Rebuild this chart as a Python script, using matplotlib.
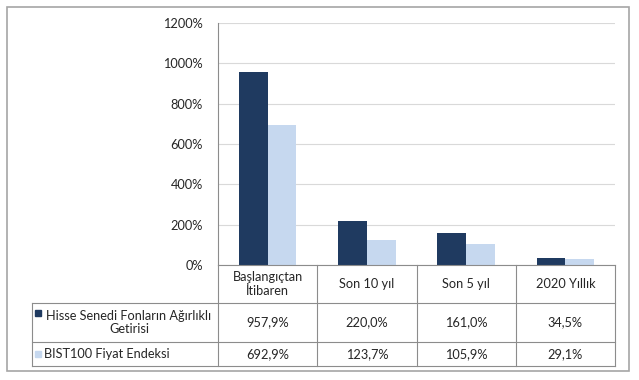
import numpy as np
import matplotlib.pyplot as plt
from matplotlib.patches import Rectangle
from matplotlib.lines import Line2D

plt.rcParams['font.family'] = ['Lato', 'DejaVu Sans']

# ---------- data ----------
categories = ["Başlangıçtan\nİtibaren", "Son 10 yıl", "Son 5 yıl", "2020 Yıllık"]
series_names = ["Hisse Senedi Fonların Ağırlıklı\nGetirisi", "BIST100 Fiyat Endeksi"]
fund_returns = [957.9, 220.0, 161.0, 34.5]
bist_returns = [692.9, 123.7, 105.9, 29.1]
fund_labels = ["957,9%", "220,0%", "161,0%", "34,5%"]
bist_labels = ["692,9%", "123,7%", "105,9%", "29,1%"]
yticks = [0, 200, 400, 600, 800, 1000, 1200]

dark = "#1F3A60"
light = "#C6D8EF"
grid_c = "#D9D9D9"
line_c = "#8C8C8C"
txt_c = "#262626"
fs = 9.2

W, H = 639, 380
fig = plt.figure(figsize=(W / 100, H / 100), dpi=100)

# pixel helpers (top-left origin)
def fx(px):
    return px / W

def fy(py):
    return 1 - py / H

ax_l, ax_r, ax_t, ax_b = 218, 615, 23, 265
ax = fig.add_axes([fx(ax_l), fy(ax_b), fx(ax_r) - fx(ax_l), fy(ax_t) - fy(ax_b)])

x = np.arange(len(categories))
bw = 0.29
ax.bar(x - bw / 2, fund_returns, bw, color=dark, zorder=3)
ax.bar(x + bw / 2, bist_returns, bw, color=light, zorder=3)

ax.set_xlim(-0.5, len(categories) - 0.5)
ax.set_ylim(0, 1200)
ax.set_yticks(yticks)
ax.set_yticklabels([f"{v}%" for v in yticks], fontsize=fs, color=txt_c)
ax.tick_params(axis="y", length=0, pad=11)
ax.set_xticks([])
ax.grid(axis="y", color=grid_c, linewidth=0.8, zorder=0)
for s in ["top", "right", "bottom"]:
    ax.spines[s].set_visible(False)
ax.spines["left"].set_color(line_c)
ax.spines["left"].set_linewidth(0.8)

# ---------- data table ----------
tab_l = 32
row_y = [265, 303, 342, 366]
col_x = [ax_l + (ax_r - ax_l) * i / len(categories) for i in range(len(categories) + 1)]

def hline(x0, x1, y):
    fig.add_artist(Line2D([fx(x0), fx(x1)], [fy(y), fy(y)], color=line_c, lw=0.8))

def vline(xp, y0, y1):
    fig.add_artist(Line2D([fx(xp), fx(xp)], [fy(y0), fy(y1)], color=line_c, lw=0.8))

hline(ax_l, ax_r, row_y[0])
for y in row_y[1:]:
    hline(tab_l, ax_r, y)
for xp in col_x:
    vline(xp, row_y[0], row_y[-1])
vline(tab_l, row_y[1], row_y[-1])

for i, cat in enumerate(categories):
    cx = (col_x[i] + col_x[i + 1]) / 2
    fig.text(fx(cx), fy((row_y[0] + row_y[1]) / 2), cat, ha="center", va="center",
             fontsize=fs, color=txt_c, linespacing=1.15)
    fig.text(fx(cx), fy((row_y[1] + row_y[2]) / 2), fund_labels[i], ha="center", va="center",
             fontsize=fs, color=txt_c)
    fig.text(fx(cx), fy((row_y[2] + row_y[3]) / 2), bist_labels[i], ha="center", va="center",
             fontsize=fs, color=txt_c)

# row labels with legend keys
sq = 6
fig.add_artist(Rectangle((fx(35), fy(316)), sq / W, sq / H, color=dark))
fig.text(fx(129), fy((row_y[1] + row_y[2]) / 2), series_names[0], ha="center", va="center",
         fontsize=fs, color=txt_c, linespacing=1.15)
fig.add_artist(Rectangle((fx(35), fy(357)), sq / W, sq / H, color=light))
fig.text(fx(44), fy((row_y[2] + row_y[3]) / 2), series_names[1], ha="left", va="center",
         fontsize=fs, color=txt_c)

# outer frame
fig.add_artist(Rectangle((fx(7), fy(371)), (629 - 7) / W, (371 - 7) / H, fill=False,
                         edgecolor="#A6A6A6", lw=1.2))

fig.savefig("out.png", dpi=100)
